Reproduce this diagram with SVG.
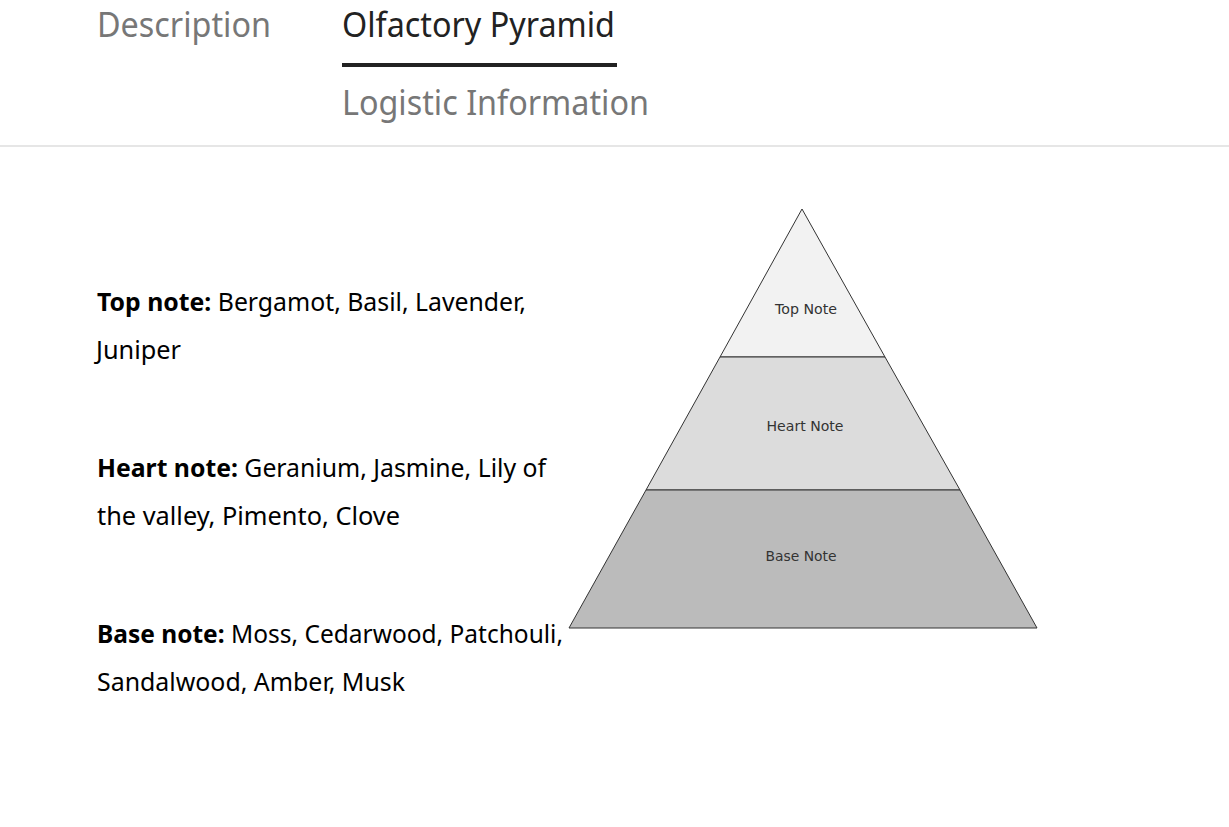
<svg xmlns="http://www.w3.org/2000/svg" width="1229" height="827" viewBox="0 0 1229 827">
<style>
.tab{font-family:"Noto Sans","Open Sans",sans-serif;font-size:34px;}
.body{font-family:"Noto Sans","Open Sans",sans-serif;font-size:25px;fill:#000;}
.b{font-weight:bold;}
.lbl{font-family:"DejaVu Sans","Liberation Sans",sans-serif;font-size:14px;fill:#333;text-anchor:middle;}
.tier{stroke:#333;stroke-width:1;}
</style>
<rect width="1229" height="827" fill="#fff"/>
<g id="tabs">
<text class="tab" x="97" y="37" fill="#777" textLength="174" lengthAdjust="spacingAndGlyphs">Description</text>
<text class="tab" x="342" y="37" fill="#222" textLength="273" lengthAdjust="spacingAndGlyphs">Olfactory Pyramid</text>
<rect x="342" y="63" width="275" height="4" fill="#222"/>
<text class="tab" x="342" y="115" fill="#777" textLength="307" lengthAdjust="spacingAndGlyphs">Logistic Information</text>
<rect x="0" y="145" width="1229" height="2" fill="#e6e6e6"/>
</g>
<g id="notes">
<text class="body" x="97" y="311" textLength="429" lengthAdjust="spacingAndGlyphs"><tspan class="b">Top note:</tspan> Bergamot, Basil, Lavender,</text>
<text class="body" x="96" y="359" textLength="85" lengthAdjust="spacingAndGlyphs">Juniper</text>
<text class="body" x="97" y="477" textLength="449" lengthAdjust="spacingAndGlyphs"><tspan class="b">Heart note:</tspan> Geranium, Jasmine, Lily of</text>
<text class="body" x="97" y="525" textLength="303" lengthAdjust="spacingAndGlyphs">the valley, Pimento, Clove</text>
<text class="body" x="97" y="643" textLength="466" lengthAdjust="spacingAndGlyphs"><tspan class="b">Base note:</tspan> Moss, Cedarwood, Patchouli,</text>
<text class="body" x="97" y="691" textLength="308" lengthAdjust="spacingAndGlyphs">Sandalwood, Amber, Musk</text>
</g>
<g id="pyramid">
<g id="top-tier">
<polygon class="tier" points="802,209 885,357 720,357" fill="#f2f2f2"/>
<text class="lbl" x="806" y="314" textLength="62" lengthAdjust="spacingAndGlyphs">Top Note</text>
</g>
<g id="heart-tier">
<polygon class="tier" points="720,357 885,357 960,490 646,490" fill="#dcdcdc"/>
<text class="lbl" x="805" y="431" textLength="77" lengthAdjust="spacingAndGlyphs">Heart Note</text>
</g>
<g id="base-tier">
<polygon class="tier" points="646,490 960,490 1037,628 569,628" fill="#bbbbbb"/>
<text class="lbl" x="801" y="561" textLength="71" lengthAdjust="spacingAndGlyphs">Base Note</text>
</g>
</g>
<g id="connectors"/>
</svg>
